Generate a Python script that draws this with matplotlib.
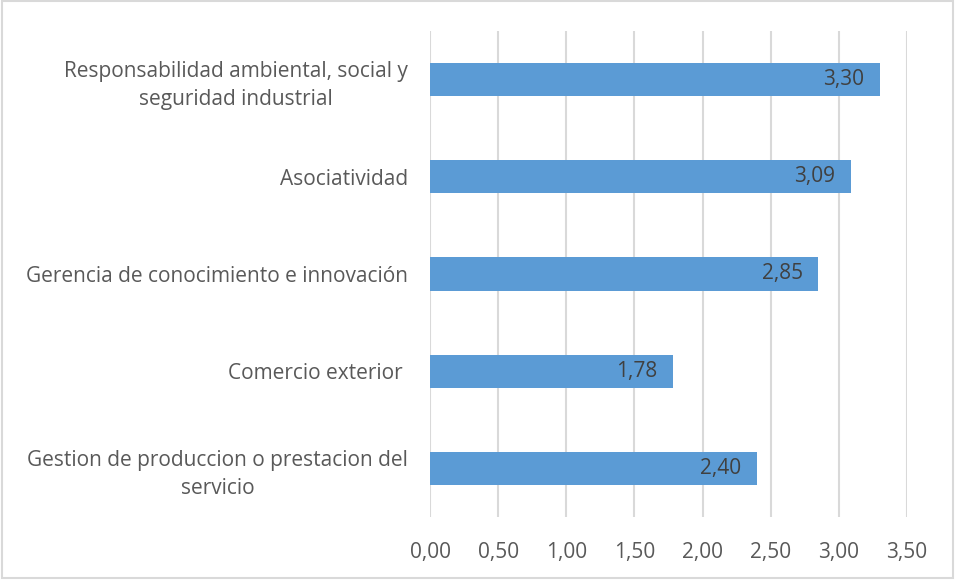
import matplotlib.pyplot as plt
from matplotlib.patches import Rectangle
from matplotlib.ticker import FuncFormatter

categorias = [
    "Gestion de produccion o prestacion del\nservicio",
    "Comercio exterior ",
    "Gerencia de conocimiento e innovación",
    "Asociatividad",
    "Responsabilidad ambiental, social y\nseguridad industrial",
]
valores = [2.40, 1.78, 2.85, 3.09, 3.30]
ticks = [0, 0.5, 1.0, 1.5, 2.0, 2.5, 3.0, 3.5]

plt.rcParams['font.family'] = ['Open Sans', 'DejaVu Sans']

fig = plt.figure(figsize=(9.56, 5.80), dpi=100)
ax = fig.add_axes([0.4498, 0.1086, 0.499, 0.838])

pos = range(len(categorias))
ax.barh(pos, valores, height=0.34, color="#5b9bd5", zorder=3)
for y, v in zip(pos, valores):
    ax.text(v - 0.115, y, f"{v:.2f}".replace(".", ","), ha="right", va="center",
            fontsize=15, color="#404040", zorder=4)

ax.set_xlim(0, 3.5)
ax.set_ylim(-0.5, len(categorias) - 0.5)
ax.set_xticks(ticks)
ax.xaxis.set_major_formatter(FuncFormatter(lambda x, p: f"{x:.2f}".replace(".", ",")))
ax.set_yticks(list(pos))
ax.set_yticklabels(categorias, multialignment="center", linespacing=1.45)
ax.tick_params(axis="both", length=0, labelsize=15, colors="#595959")
ax.tick_params(axis="y", pad=16)
ax.tick_params(axis="x", pad=18)
ax.grid(axis="x", color="#d9d9d9", linewidth=1.5, zorder=0)
for s in ax.spines.values():
    s.set_visible(False)

# marco exterior
fig.patches.append(Rectangle((0.002, 0.004), 0.995, 0.994, transform=fig.transFigure,
                             fill=False, edgecolor="#d9d9d9", linewidth=1.5))

fig.savefig("out.png", dpi=100)
